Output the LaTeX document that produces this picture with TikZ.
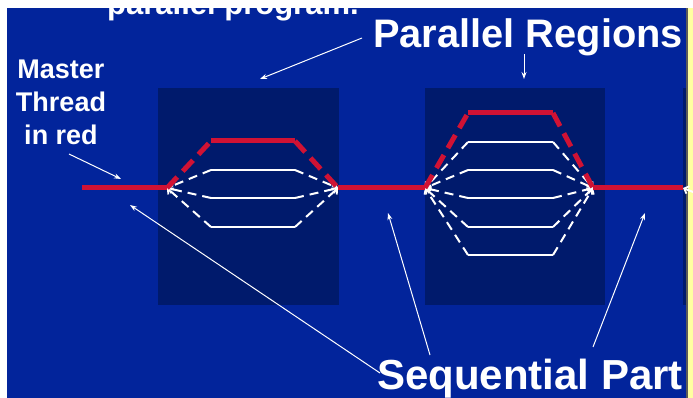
\documentclass[tikz,border=0pt]{standalone}
\usepackage{fontspec}
\setmainfont{Liberation Sans}
\usetikzlibrary{arrows.meta}
\definecolor{slideblue}{RGB}{2,36,155}
\definecolor{regionblue}{RGB}{0,26,108}
\definecolor{threadred}{RGB}{208,18,52}
\definecolor{noteyellow}{RGB}{255,255,160}
\definecolor{edgegray}{RGB}{90,90,90}
\begin{document}
\begin{tikzpicture}[x=1pt,y=-1pt,
  master/.style={threadred,line width=5pt},
  masterdash/.style={threadred,line width=5pt,dash pattern=on 15pt off 8pt},
  worker/.style={white,line width=2.2pt},
  workerdash/.style={white,line width=2pt,dash pattern=on 9pt off 6pt},
  workertip/.style={workerdash,-{Straight Barb[length=4pt,width=8pt,line width=1.8pt]}},
  pointer/.style={white,line width=1pt,-{Stealth[length=7pt,width=5pt]}},
  label/.style={text=white,inner sep=0pt},
  region/.style={fill=regionblue,draw=none}]
\useasboundingbox (0,0) rectangle (693,398);
% slide background with page edge
\fill[white] (0,0) rectangle (693,398);
\fill[slideblue] (7,8) rectangle (686,398);
\fill[edgegray] (686,8) rectangle (688,398);
\fill[noteyellow] (688,8) rectangle (693,398);

% parallel regions
\fill[region] (158,88) rectangle (339,305);
\fill[region] (425,88) rectangle (605,305);
\fill[region] (683,88) rectangle (686,305);

% fork / join points on the master thread
\coordinate (start) at (82,188);
\coordinate (fork1) at (167,188);
\coordinate (join1) at (338,188);
\coordinate (fork2) at (425,188);
\coordinate (join2) at (593,188);
\coordinate (fork3) at (683,188);

% worker threads, region 1
\foreach \y [count=\i] in {170,198,227} {
  \coordinate (a\i) at (211,\y);
  \coordinate (b\i) at (295,\y);
  \draw[worker] (a\i) -- (b\i);
  \draw[workertip] (a\i) -- (fork1);
  \draw[workertip] (b\i) -- (join1);
}
% worker threads, region 2
\foreach \y [count=\i] in {142,170,198,227,255} {
  \coordinate (c\i) at (468,\y);
  \coordinate (d\i) at (553,\y);
  \draw[worker] (c\i) -- (d\i);
  \draw[workertip] (c\i) -- (fork2);
  \draw[workertip] (d\i) -- (join2);
}
\draw[workertip] ([xshift=10pt,yshift=-4pt]fork3) -- (fork3);

% master thread
\draw[master] (start) -- (fork1);
\draw[master] (join1) -- (fork2);
\draw[master] (join2) -- (fork3);
\coordinate (m1a) at (211,141);
\coordinate (m1b) at (295,141);
\draw[masterdash] (fork1) -- (m1a);
\draw[master] (m1a) -- (m1b);
\draw[masterdash] (m1b) -- (join1);
\coordinate (m2a) at (468,113);
\coordinate (m2b) at (553,113);
\draw[masterdash] (fork2) -- (m2a);
\draw[master] (m2a) -- (m2b);
\draw[masterdash] (m2b) -- (join2);

% labels
\node[label,anchor=base west,font=\bfseries\fontsize{31}{31}\selectfont] (program) at (107,15) {parallel program.};
\node[label,anchor=base west,font=\bfseries\fontsize{39.8}{40}\selectfont] (parallel) at (373,48) {Parallel Regions};
\node[label,anchor=base west,font=\bfseries\fontsize{42}{42}\selectfont] (sequential) at (377,389) {Sequential Part};
\node[label,align=center,font=\bfseries\fontsize{27}{33}\selectfont] (masterlbl) at (61,102) {Master\\Thread\\in red};

% pointers
\coordinate (p0) at (362,38);
\coordinate (p1) at (260,79);
\coordinate (q0) at (524,54);
\coordinate (q1) at (524,79);
\coordinate (r0) at (69,154);
\coordinate (r1) at (121,179);
\coordinate (s0) at (380,373);
\coordinate (s1) at (130,205);
\coordinate (t0) at (430,355);
\coordinate (t1) at (388,213);
\coordinate (u0) at (593,347);
\coordinate (u1) at (645,213);
\draw[pointer] (p0) -- (p1);
\draw[pointer] (q0) -- (q1);
\draw[pointer] (r0) -- (r1);
\draw[pointer] (s0) -- (s1);
\draw[pointer] (t0) -- (t1);
\draw[pointer] (u0) -- (u1);
\end{tikzpicture}
\end{document}
